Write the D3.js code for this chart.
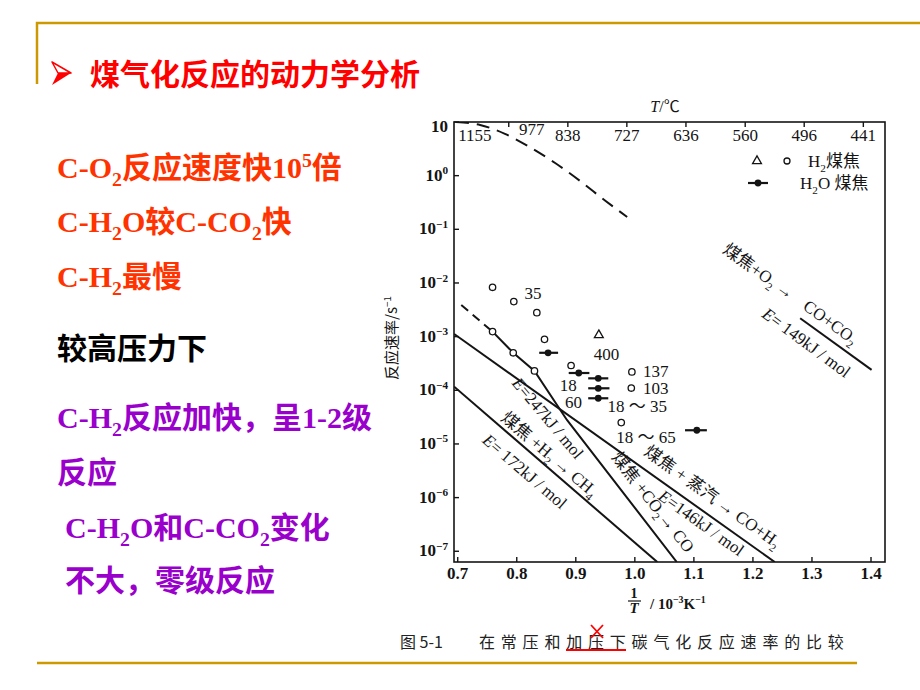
<!DOCTYPE html>
<html>
<head>
<meta charset="utf-8">
<script src="https://cdn.jsdelivr.net/npm/d3@7"></script>
<style>
  body { margin: 0; background: #fff; }
  svg { display: block; }
</style>
</head>
<body>
<svg id="slide" width="920" height="690"></svg>
<script>
// ---- chart data (x = 1/T in 10^-3 K^-1, y = rate in s^-1) ----
const xTicks = [0.7, 0.8, 0.9, 1.0, 1.1, 1.2, 1.3, 1.4];
const yExponents = [1, 0, -1, -2, -3, -4, -5, -6, -7];
const tempLabels = [1155, 977, 838, 727, 636, 560, 496, 441];

// open circles, H2 + char
const h2Circles = [[0.759, 8.3e-3], [0.795, 4.5e-3], [0.834, 2.8e-3], [0.847, 8.9e-4],
                   [0.892, 2.9e-4], [0.995, 2.2e-4], [0.994, 1.1e-4], [0.977, 2.5e-5]];
// circles sitting on the CO2 curve
const curveCircles = [[0.759, 1.24e-3], [0.794, 5.0e-4], [0.830, 2.3e-4]];
const h2Triangles = [[0.939, 1.07e-3]];
// filled dots with horizontal bars, H2O + char
const h2oX = [0.853, 0.905, 0.938, 0.938, 0.938, 1.105];
const h2oLo = [0.838, 0.888, 0.921, 0.921, 0.921, 1.085];
const h2oHi = [0.870, 0.923, 0.955, 0.957, 0.955, 1.122];
const h2oY = [5.0e-4, 2.1e-4, 1.67e-4, 1.09e-4, 7.1e-5, 1.8e-5];

// curves
const topDashed = [[0.697, 10], [0.738, 8.8], [0.780, 6.0], [0.822, 3.4], [0.865, 1.72],
                   [0.907, 0.80], [0.950, 0.34], [0.987, 0.17]];
const co2Dashed = [[0.706, 3.9e-3], [0.759, 1.24e-3]];
const co2Line = [[0.759, 1.24e-3], [0.794, 5.0e-4], [0.830, 2.3e-4], [0.885, 2.8e-5], [1.071, 6.3e-8]];
const steamLine = [[0.694, 1.12e-3], [1.237, 6.3e-8]];
const h2Line = [[0.694, 1.17e-4], [1.038, 6.3e-8]];
const o2Line = [[1.280, 2.2e-3], [1.401, 2.4e-4]];

// ---- annotations: text, anchor (data coords), angle ----
const lineNotes = [
  ["煤焦+O{_2} →", 1.210, 1.67e-2, 35.5],
  ["CO+CO{_2}", 1.332, 1.87e-3, 36],
  ["{*E}= 149kJ / mol", 1.291, 7.8e-4, 36.5],
  ["煤焦 + 蒸汽  →  CO+H{_2}", 1.132, 1.05e-6, 35.5],
  ["{*E}=146kJ / mol", 1.113, 3.4e-7, 35.5],
  ["煤焦 +CO{_2}→ CO", 1.031, 8.3e-7, 52],
  ["{*E}=247kJ / mol", 0.853, 3.05e-5, 50],
  ["煤焦 +H{_2}  → CH{_4}", 0.856, 6.5e-6, 40.5],
  ["{*E}= 172kJ / mol", 0.814, 3.1e-6, 40.5]
];
const numberNotes = [
  ["35", 0.8275, 6.5e-3, "middle"],
  ["400", 0.952, 4.7e-4, "middle"],
  ["137", 1.014, 2.3e-4, "start"],
  ["103", 1.014, 1.1e-4, "start"],
  ["18", 0.887, 1.26e-4, "middle"],
  ["60", 0.896, 6.1e-5, "middle"],
  ["18 ～ 35", 1.004, 5.1e-5, "middle"],
  ["18 ～ 65", 1.019, 1.35e-5, "middle"]
];

// ---- slide text ----
const bulletLines = [
  ["C-O{_2}反应速度快10{^5}倍", 57, 178, "#ff3300"],
  ["C-H{_2}O较C-CO{_2}快", 57, 232, "#ff3300"],
  ["C-H{_2}最慢", 57, 287, "#ff3300"],
  ["较高压力下", 57, 359, "#000000"],
  ["C-H{_2}反应加快，呈1-2级", 57, 428, "#9900cc"],
  ["反应", 57, 483, "#9900cc"],
  ["C-H{_2}O和C-CO{_2}变化", 65, 538, "#9900cc"],
  ["不大，零级反应", 65, 591, "#9900cc"]
];

const SERIF = "'Liberation Serif', 'Times New Roman', 'Noto Sans CJK SC', serif";
const CJK = "'Noto Sans CJK SC', sans-serif";
const INK = "#141414";
const GOLD = "#cc9900";

const svg = d3.select("#slide");
svg.append("rect").attr("width", 920).attr("height", 690).attr("fill", "#fff");

// mini markup: {_x} subscript, {^x} superscript, {*x} italic
function rich(textSel, str, size) {
  const re = /\{([_^*])([^}]*)\}/g;
  let last = 0, m, shift = 0;
  const add = (t, mode) => {
    if (!t) return;
    const ts = textSel.append("tspan").text(t);
    let target = 0;
    if (mode === "_") { target = size * 0.28; ts.attr("font-size", size * 0.66); }
    else if (mode === "^") { target = -size * 0.38; ts.attr("font-size", size * 0.66); }
    else if (mode === "*") ts.attr("font-style", "italic");
    if (target !== shift) { ts.attr("dy", target - shift); shift = target; }
  };
  while ((m = re.exec(str))) {
    add(str.slice(last, m.index), "");
    add(m[2], m[1]);
    last = re.lastIndex;
  }
  add(str.slice(last), "");
  return textSel;
}

// ---- frame decoration ----
svg.append("path")
  .attr("d", "M37,84 L37,23 L920,23")
  .attr("fill", "none").attr("stroke", GOLD).attr("stroke-width", 2.5);
svg.append("line")
  .attr("x1", 37).attr("x2", 857).attr("y1", 663).attr("y2", 663)
  .attr("stroke", GOLD).attr("stroke-width", 2.5);

// title with arrow bullet
svg.append("path").attr("d", "M52,62 L71,73 L58,73 Z")
  .attr("fill", "#fff").attr("stroke", "#ff0000").attr("stroke-width", 1.5).attr("stroke-linejoin", "round");
svg.append("path").attr("d", "M58,73 L71,73 L52,85 Z").attr("fill", "#ff0000");
svg.append("text")
  .attr("x", 90).attr("y", 85)
  .attr("font-family", CJK).attr("font-weight", 700).attr("font-size", 30)
  .attr("fill", "#ff0000")
  .text("煤气化反应的动力学分析");

// bullet text block
bulletLines.forEach(([str, bx, by, col]) => {
  const t = svg.append("text")
    .attr("x", bx).attr("y", by)
    .attr("font-family", SERIF).attr("font-weight", 700).attr("font-size", 30)
    .attr("fill", col);
  rich(t, str, 30);
});

// ---- chart ----
const x = d3.scaleLinear().domain([0.6937, 1.4237]).range([454, 885]);
const y = d3.scaleLog().domain([Math.pow(10, -7.2), 10]).range([562, 122]);
const [x0, x1] = x.range();
const [yb, yt] = y.range();

const chart = svg.append("g");

chart.append("clipPath").attr("id", "plotClip")
  .append("rect").attr("x", x0).attr("y", yt).attr("width", x1 - x0).attr("height", yb - yt);

// bottom axis
chart.selectAll(".xtick").data(xTicks).enter().append("line")
  .attr("x1", d => x(d)).attr("x2", d => x(d))
  .attr("y1", yb).attr("y2", yb - 5)
  .attr("stroke", INK).attr("stroke-width", 1.4);
chart.selectAll(".xlab").data(xTicks).enter().append("text")
  .attr("x", d => x(d)).attr("y", yb + 17)
  .attr("text-anchor", "middle")
  .attr("font-family", SERIF).attr("font-weight", 700).attr("font-size", 17)
  .attr("fill", INK)
  .text(d => d.toFixed(1));

// left axis
chart.selectAll(".ytick").data(yExponents).enter().append("line")
  .attr("x1", x0).attr("x2", x0 + 5)
  .attr("y1", d => y(Math.pow(10, d))).attr("y2", d => y(Math.pow(10, d)))
  .attr("stroke", INK).attr("stroke-width", 1.4);
yExponents.forEach(e => {
  const t = chart.append("text")
    .attr("x", x0 - 6).attr("y", y(Math.pow(10, e)) + (e === 1 ? 10 : 5))
    .attr("text-anchor", "end")
    .attr("font-family", SERIF).attr("font-weight", 700).attr("font-size", 17)
    .attr("fill", INK);
  rich(t, e === 1 ? "10" : "10{^" + String(e).replace("-", "−") + "}", 17);
});

// top axis (temperature), ticks sit slightly left as in the print
const tX = T => x(1000 / (T + 273)) - 8;
tempLabels.slice(1).forEach(T => {
  chart.append("line")
    .attr("x1", tX(T)).attr("x2", tX(T)).attr("y1", yt).attr("y2", yt + 5)
    .attr("stroke", INK).attr("stroke-width", 1.4);
});
tempLabels.forEach((T, i) => {
  chart.append("text")
    .attr("x", tX(T) + (i === 0 ? 25 : i === 1 ? 23 : 0))
    .attr("y", yt + (i === 1 ? 13 : 19))
    .attr("text-anchor", "middle")
    .attr("font-family", SERIF).attr("font-size", 17)
    .attr("fill", INK)
    .text(T);
});

// frame
chart.append("rect")
  .attr("x", x0).attr("y", yt).attr("width", x1 - x0).attr("height", yb - yt)
  .attr("fill", "none").attr("stroke", INK).attr("stroke-width", 1.6);

// axis titles
rich(chart.append("text").attr("x", 665).attr("y", 112).attr("text-anchor", "middle")
  .attr("font-family", SERIF).attr("font-size", 16).attr("fill", INK), "{*T}/℃", 16);

rich(chart.append("text")
  .attr("transform", "translate(397,338) rotate(-90)")
  .attr("text-anchor", "middle")
  .attr("font-family", CJK).attr("font-size", 15).attr("fill", INK), "反应速率/s{^−1}", 15);

chart.append("text").attr("x", 634).attr("y", 598).attr("text-anchor", "middle")
  .attr("font-family", SERIF).attr("font-weight", 700).attr("font-size", 14).attr("fill", INK).text("1");
chart.append("line").attr("x1", 628).attr("x2", 641).attr("y1", 601).attr("y2", 601)
  .attr("stroke", INK).attr("stroke-width", 1.2);
chart.append("text").attr("x", 634).attr("y", 613).attr("text-anchor", "middle")
  .attr("font-family", SERIF).attr("font-style", "italic").attr("font-weight", 700).attr("font-size", 15)
  .attr("fill", INK).text("T");
rich(chart.append("text").attr("x", 650).attr("y", 609)
  .attr("font-family", SERIF).attr("font-weight", 700).attr("font-size", 15).attr("fill", INK),
  "/ 10{^−3}K{^−1}", 15);

// curves
const line = d3.line().x(d => x(d[0])).y(d => y(d[1]));
const curves = chart.append("g").attr("clip-path", "url(#plotClip)")
  .attr("fill", "none").attr("stroke", INK).attr("stroke-width", 2);
curves.append("path").attr("d", line.curve(d3.curveMonotoneX)(topDashed)).attr("stroke-dasharray", "13,8");
curves.append("path").attr("d", line.curve(d3.curveLinear)(co2Dashed)).attr("stroke-dasharray", "9,6");
curves.append("path").attr("d", line(co2Line));
curves.append("path").attr("d", line(steamLine));
curves.append("path").attr("d", line(h2Line));
curves.append("path").attr("d", line(o2Line));

// markers
const marks = chart.append("g");
marks.selectAll(".oc").data(h2Circles.concat(curveCircles)).enter().append("circle")
  .attr("cx", d => x(d[0])).attr("cy", d => y(d[1])).attr("r", 3.2)
  .attr("fill", "#fff").attr("stroke", INK).attr("stroke-width", 1.3);
marks.selectAll(".tri").data(h2Triangles).enter().append("path")
  .attr("d", d3.symbol(d3.symbolTriangle, 34))
  .attr("transform", d => `translate(${x(d[0])},${y(d[1])})`)
  .attr("fill", "#fff").attr("stroke", INK).attr("stroke-width", 1.3);
h2oX.forEach((cx, i) => {
  marks.append("line")
    .attr("x1", x(h2oLo[i])).attr("x2", x(h2oHi[i]))
    .attr("y1", y(h2oY[i])).attr("y2", y(h2oY[i]))
    .attr("stroke", INK).attr("stroke-width", 2.2);
  marks.append("circle").attr("cx", x(cx)).attr("cy", y(h2oY[i])).attr("r", 3.4).attr("fill", INK);
});

// number labels
numberNotes.forEach(([txt, nx, ny, anchor]) => {
  chart.append("text")
    .attr("x", x(nx)).attr("y", y(ny)).attr("dy", "0.35em")
    .attr("text-anchor", anchor)
    .attr("font-family", SERIF).attr("font-size", 17).attr("fill", INK)
    .text(txt);
});

// rotated reaction labels
lineNotes.forEach(([txt, nx, ny, ang]) => {
  const t = chart.append("text")
    .attr("transform", `translate(${x(nx)},${y(ny)}) rotate(${ang})`)
    .attr("y", 6)
    .attr("text-anchor", "middle")
    .attr("font-family", SERIF).attr("font-size", 17).attr("fill", INK);
  rich(t, txt, 17);
});

// legend
const legend = chart.append("g");
legend.append("path").attr("d", d3.symbol(d3.symbolTriangle, 34))
  .attr("transform", "translate(757,161)")
  .attr("fill", "#fff").attr("stroke", INK).attr("stroke-width", 1.3);
legend.append("circle").attr("cx", 787).attr("cy", 161).attr("r", 3)
  .attr("fill", "#fff").attr("stroke", INK).attr("stroke-width", 1.3);
rich(legend.append("text").attr("x", 808).attr("y", 167)
  .attr("font-family", SERIF).attr("font-size", 17).attr("fill", INK), "H{_2}煤焦", 17);
legend.append("line").attr("x1", 748).attr("x2", 768).attr("y1", 183).attr("y2", 183)
  .attr("stroke", INK).attr("stroke-width", 2.2);
legend.append("circle").attr("cx", 758).attr("cy", 183).attr("r", 3.4).attr("fill", INK);
rich(legend.append("text").attr("x", 800).attr("y", 189)
  .attr("font-family", SERIF).attr("font-size", 17).attr("fill", INK), "H{_2}O 煤焦", 17);

// caption
svg.append("text").attr("x", 400).attr("y", 648)
  .attr("font-family", CJK).attr("font-size", 16).attr("fill", "#222")
  .text("图 5-1");
svg.append("text").attr("x", 479).attr("y", 648)
  .attr("font-family", CJK).attr("font-size", 16).attr("letter-spacing", 5.8).attr("fill", "#222")
  .text("在常压和加压下碳气化反应速率的比较");
svg.append("line").attr("x1", 566).attr("x2", 626).attr("y1", 650).attr("y2", 650)
  .attr("stroke", "#ff0000").attr("stroke-width", 2.2);
svg.append("path").attr("d", "M591,625 L603,638 M603,625 L591,638")
  .attr("stroke", "#ff0000").attr("stroke-width", 1.8).attr("fill", "none");
</script>
</body>
</html>
